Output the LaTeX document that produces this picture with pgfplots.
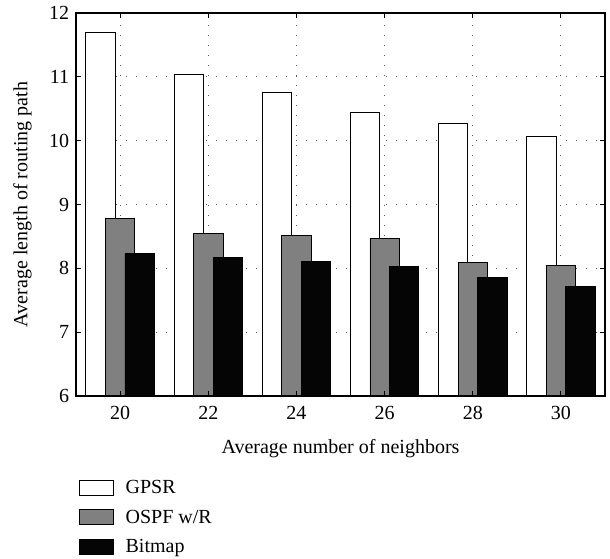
\documentclass[border=0pt]{standalone}
\usepackage{fontspec}
\setmainfont{Liberation Serif}
\usepackage{pgfplots}
\pgfplotsset{compat=1.18}
\begin{document}
\fontsize{20bp}{24bp}\selectfont
\begin{tikzpicture}
\pgfplotsset{mylegend/.style={legend image code/.code={\draw[##1,line width=0.8bp] (0bp,-7bp) rectangle (34bp,8bp);}}}
\begin{axis}[
  set layers, axis on top,
  scale only axis, width=529bp, height=383bp,
  xmin=-0.5, xmax=5.5, ymin=6, ymax=12,
  xtick={0,...,5}, xticklabels={20,22,24,26,28,30},
  ytick={6,...,12},
  ybar, bar width=0.333,
  tick align=inside, major tick length=5bp,
  every tick/.style={black, line width=0.9bp},
  grid=major,
  major grid style={/pgfplots/on layer=axis background, dash pattern=on 1bp off 9bp, gray!70!black, line width=0.9bp},
  axis line style={line width=1.1bp},
  xlabel={Average number of neighbors},
  ylabel={Average length of routing path},
  tick label style={font=\fontsize{20bp}{24bp}\selectfont},
  xticklabel style={yshift=-3bp},
  label style={font=\fontsize{20bp}{24bp}\selectfont},
  xlabel style={yshift=-7bp},
  ylabel style={yshift=4bp},
  /pgf/number format/assume math mode=true,
  legend style={at={(0.005,-0.215)}, anchor=north west, draw=none, fill=none,
    row sep=9bp, inner sep=0pt, font=\fontsize{20bp}{24bp}\selectfont,
    /tikz/every odd column/.append style={column sep=10bp}},
  legend cell align=left,
]
\addplot[bar shift=-0.222, fill=white, draw=black, line width=0.8bp, mylegend]
  coordinates {(0,11.69) (1,11.04) (2,10.76) (3,10.45) (4,10.27) (5,10.06)};
\addlegendentry{GPSR}
\addplot[bar shift=0, fill=black!50, draw=black, line width=0.8bp, mylegend]
  coordinates {(0,8.78) (1,8.54) (2,8.51) (3,8.47) (4,8.09) (5,8.05)};
\addlegendentry{OSPF w/R}
\addplot[bar shift=0.222, fill=black!98, draw=black, line width=0.8bp, mylegend]
  coordinates {(0,8.23) (1,8.17) (2,8.11) (3,8.03) (4,7.86) (5,7.71)};
\addlegendentry{Bitmap}
\end{axis}
\pgfresetboundingbox
\path ([xshift=-76bp,yshift=-163bp]current axis.south west) rectangle ([xshift=5bp,yshift=13bp]current axis.north east);
\end{tikzpicture}
\end{document}
